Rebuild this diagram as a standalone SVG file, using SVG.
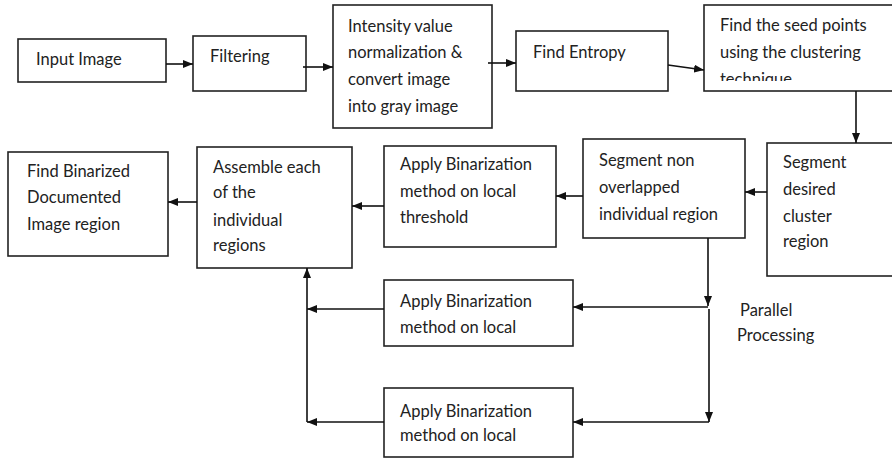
<svg xmlns="http://www.w3.org/2000/svg" width="892" height="459" viewBox="0 0 892 459">
<style>
.box{fill:#fff;stroke:#222;stroke-width:1.6}
.t{font-family:Lato,"Liberation Sans",sans-serif;font-size:16.5px;fill:#222}
.c{fill:none;stroke:#111;stroke-width:1.6}
</style>
<defs>
<marker id="ah" viewBox="0 0 10 8" refX="10" refY="4" markerWidth="10" markerHeight="8" markerUnits="userSpaceOnUse" orient="auto">
<path d="M0,0 L10,4 L0,8 Z" fill="#111"/>
</marker>
<clipPath id="seedclip"><rect x="704" y="5" width="190" height="76"/></clipPath>
</defs>
<rect width="892" height="459" fill="#fff"/>
<g id="input-image">
<rect class="box" x="18" y="39" width="148" height="43"/>
<text class="t" x="36" y="65">Input Image</text>
</g>
<g id="filtering">
<rect class="box" x="193" y="36" width="113" height="55"/>
<text class="t" x="210" y="62">Filtering</text>
</g>
<g id="intensity">
<rect class="box" x="333" y="5" width="159" height="123"/>
<text class="t" x="348" y="32">Intensity value</text>
<text class="t" x="348" y="58">normalization &amp;</text>
<text class="t" x="348" y="85">convert image</text>
<text class="t" x="348" y="112">into gray image</text>
</g>
<g id="find-entropy">
<rect class="box" x="516" y="31" width="152" height="60"/>
<text class="t" x="533" y="58">Find Entropy</text>
</g>
<g id="seed-points">
<rect class="box" x="704" y="5" width="195" height="86"/>
<g clip-path="url(#seedclip)">
<text class="t" x="720" y="31">Find the seed points</text>
<text class="t" x="720" y="58">using the clustering</text>
<text class="t" x="720" y="85">technique</text>
</g>
</g>
<g id="segment-desired">
<rect class="box" x="767" y="143" width="132" height="133"/>
<text class="t" x="783" y="168">Segment</text>
<text class="t" x="783" y="195">desired</text>
<text class="t" x="783" y="222">cluster</text>
<text class="t" x="783" y="247">region</text>
</g>
<g id="segment-non-overlapped">
<rect class="box" x="583" y="139" width="162" height="99"/>
<text class="t" x="599" y="166">Segment non</text>
<text class="t" x="599" y="193">overlapped</text>
<text class="t" x="599" y="220">individual region</text>
</g>
<g id="apply-threshold">
<rect class="box" x="384" y="146" width="172" height="101"/>
<text class="t" x="400" y="170">Apply Binarization</text>
<text class="t" x="400" y="197">method on  local</text>
<text class="t" x="400" y="223">threshold</text>
</g>
<g id="assemble">
<rect class="box" x="197" y="147" width="155" height="121"/>
<text class="t" x="213" y="173">Assemble each</text>
<text class="t" x="213" y="198">of the</text>
<text class="t" x="213" y="226">individual</text>
<text class="t" x="213" y="251">regions</text>
</g>
<g id="find-binarized">
<rect class="box" x="8" y="152" width="160" height="104"/>
<text class="t" x="27" y="177">Find Binarized</text>
<text class="t" x="27" y="203">Documented</text>
<text class="t" x="27" y="230">Image region</text>
</g>
<g id="apply-local-1">
<rect class="box" x="384" y="280" width="189" height="66"/>
<text class="t" x="400" y="307">Apply Binarization</text>
<text class="t" x="400" y="333">method on  local</text>
</g>
<g id="apply-local-2">
<rect class="box" x="384" y="388" width="189" height="69"/>
<text class="t" x="400" y="417">Apply Binarization</text>
<text class="t" x="400" y="441">method on  local</text>
</g>
<g id="parallel-label">
<text class="t" x="740" y="316">Parallel</text>
<text class="t" x="737" y="341">Processing</text>
</g>
<g id="connectors">
<line class="c" x1="166" y1="64" x2="193" y2="64" marker-end="url(#ah)"/>
<line class="c" x1="303" y1="67" x2="333" y2="67" marker-end="url(#ah)"/>
<line class="c" x1="488" y1="63" x2="516" y2="63" marker-end="url(#ah)"/>
<line class="c" x1="668" y1="65" x2="704" y2="70" marker-end="url(#ah)"/>
<line class="c" x1="856" y1="91" x2="856" y2="143" marker-end="url(#ah)"/>
<line class="c" x1="767" y1="192" x2="745" y2="192" marker-end="url(#ah)"/>
<line class="c" x1="583" y1="196" x2="556" y2="196" marker-end="url(#ah)"/>
<line class="c" x1="384" y1="206" x2="352" y2="206" marker-end="url(#ah)"/>
<line class="c" x1="197" y1="202" x2="168" y2="202" marker-end="url(#ah)"/>
<line class="c" x1="708" y1="238" x2="708" y2="306" marker-end="url(#ah)"/>
<line class="c" x1="708" y1="307" x2="573" y2="307" marker-end="url(#ah)"/>
<line class="c" x1="709" y1="309" x2="709" y2="422" marker-end="url(#ah)"/>
<line class="c" x1="709" y1="422" x2="573" y2="422" marker-end="url(#ah)"/>
<line class="c" x1="384" y1="309" x2="307" y2="309" marker-end="url(#ah)"/>
<line class="c" x1="384" y1="422" x2="307" y2="422" marker-end="url(#ah)"/>
<line class="c" x1="307" y1="422" x2="307" y2="268" marker-end="url(#ah)"/>
</g>
</svg>
